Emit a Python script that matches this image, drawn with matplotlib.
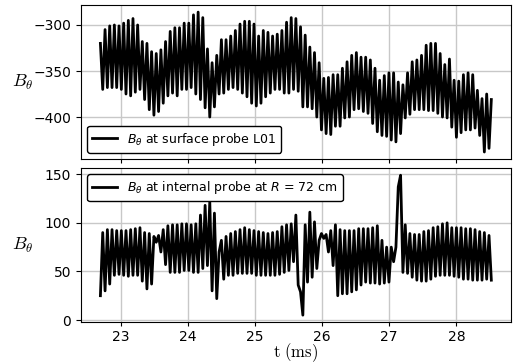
import numpy as np
import matplotlib
matplotlib.use("Agg")
import matplotlib.pyplot as plt

# -------------------------------
# DATA
# -------------------------------
t_start = 22.70   # ms
t_end = 28.52     # ms

# surface probe L01: first sample, then alternating trough / peak per half cycle
top_first = -320
top_troughs = [-370, -368, -368, -368, -370, -375, -377, -373, -370, -381,
               -392, -398, -394, -385, -377, -374, -377, -370, -370, -368,
               -375, -381, -390, -400, -389, -375, -374, -370, -368, -370,
               -374, -378, -385, -388, -385, -378, -374, -370, -370, -374,
               -374, -370, -372, -389, -389, -391, -400, -414, -418, -419,
               -410, -410, -401, -400, -392, -391, -394, -396, -407, -416,
               -420, -421, -425, -427, -418, -401, -397, -392, -392, -392,
               -393, -393, -396, -400, -401, -411, -422, -417, -414, -414,
               -412, -420, -438, -434]
top_peaks = [-305, -301, -300, -301, -298, -295, -293, -300, -318, -320,
             -329, -331, -327, -318, -307, -303, -303, -298, -298, -289,
             -286, -292, -326, -341, -333, -316, -316, -312, -306, -299,
             -296, -296, -299, -312, -306, -308, -312, -310, -306, -297,
             -292, -293, -302, -311, -324, -330, -341, -358, -357, -354,
             -354, -347, -340, -333, -330, -335, -335, -338, -347, -360,
             -355, -352, -352, -362, -365, -352, -340, -338, -333, -322,
             -320, -320, -331, -343, -337, -360, -361, -354, -352, -354,
             -371, -380, -375, -381]

# internal probe at R = 72 cm, one value per half cycle
bottom_vals = [25, 90, 30, 93, 37, 93, 46, 92, 47, 92,
               46, 92, 45, 93, 46, 94, 46, 95, 40, 90,
               32, 89, 37, 86, 80, 87, 70, 93, 57, 97,
               49, 98, 49, 98, 49, 99, 51, 99, 51, 98,
               49, 99, 49, 108, 53, 118, 56, 122, 30, 110,
               22, 70, 82, 42, 86, 46, 89, 46, 91, 48,
               93, 48, 95, 48, 93, 48, 92, 46, 91, 46,
               90, 46, 89, 46, 90, 46, 91, 47, 96, 49,
               98, 51, 99, 60, 108, 36, 29, 5, 98, 39,
               111, 44, 101, 53, 82, 89, 84, 88, 70, 92,
               56, 98, 25, 93, 27, 92, 27, 92, 29, 92,
               31, 94, 36, 94, 39, 94, 38, 95, 38, 97,
               37, 82, 38, 75, 39, 75, 60, 75, 137, 149,
               49, 98, 48, 89, 44, 88, 41, 88, 40, 91,
               40, 92, 42, 95, 45, 96, 46, 99, 46, 100,
               46, 95, 45, 95, 44, 95, 42, 94, 42, 94,
               41, 93, 41, 91, 41, 90, 42, 87, 41]

# interleave trough/peak for the surface probe
top_vals = [top_first]
for tr, pk in zip(top_troughs, top_peaks):
    top_vals += [tr, pk]

t = np.linspace(t_start, t_end, len(top_vals))

# -------------------------------
# PLOT
# -------------------------------
plt.rcParams['font.size'] = 10
plt.rcParams['xtick.major.pad'] = 2.5
plt.rcParams['xtick.major.size'] = 3

fig, (ax1, ax2) = plt.subplots(2, 1, sharex=True, figsize=(5.15, 3.64), dpi=100)
fig.subplots_adjust(left=0.157, right=0.992, top=0.986, bottom=0.115, hspace=0.06)

ax1.plot(t, top_vals, color='black', lw=2.0, label=r'$B_\theta$ at surface probe L01')
ax2.plot(t, bottom_vals, color='black', lw=2.0, label=r'$B_\theta$ at internal probe at $R$ = 72 cm')

for ax in (ax1, ax2):
    ax.grid(True, color='#c8c8c8', lw=1)
    ax.set_axisbelow(True)
    ax.set_ylabel(r'$B_\theta$', rotation=0, fontsize=13, va='center', ha='center',
                  math_fontfamily='cm')
    ax.yaxis.set_label_coords(-0.135, 0.5)

ax1.set_yticks([-300, -350, -400])
ax2.set_yticks([0, 50, 100, 150])
ax2.set_xticks([23, 24, 25, 26, 27, 28])

leg1 = ax1.legend(loc='lower left', fontsize=9, edgecolor='black', fancybox=True)
leg2 = ax2.legend(loc='upper left', fontsize=9, edgecolor='black', fancybox=True)
for leg in (leg1, leg2):
    leg.get_frame().set_alpha(1)

ax2.set_xlabel(r'$\mathrm{t\ (ms)}$', fontsize=12, va='center', math_fontfamily='cm')
ax2.xaxis.set_label_coords(0.5, -0.195)

plt.savefig("out.png", dpi=100)
